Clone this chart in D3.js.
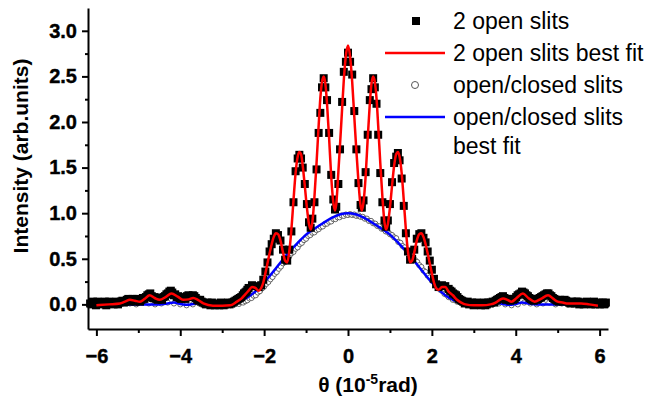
<!DOCTYPE html>
<html>
<head>
<meta charset="utf-8">
<script src="https://cdn.jsdelivr.net/npm/d3@7"></script>
<style>
  body { margin: 0; background: #fff; }
  svg text { font-family: "Liberation Sans", Arial, sans-serif; }
</style>
</head>
<body>
<svg id="chart" width="650" height="402"></svg>
<script>
'use strict';

// tick values
var xMajor = [-6, -4, -2, 0, 2, 4, 6];
var xMinor = [-5, -3, -1, 1, 3, 5];
var yMajor = [0, 0.5, 1.0, 1.5, 2.0, 2.5, 3.0];
var yMinor = [0.25, 0.75, 1.25, 1.75, 2.25, 2.75];

var legendLabels = ['2 open slits', '2 open slits best fit', 'open/closed slits', 'open/closed slits', 'best fit'];

// 2 open slits (squares), [theta, intensity]
var twoOpen = [
  [-6.15,0.01],[-6.115,0.00],[-6.08,0.03],[-6.045,0.01],[-6.01,-0.01],[-5.975,0.03],[-5.94,0.02],[-5.905,0.01],
  [-5.87,0.00],[-5.835,0.02],[-5.80,0.03],[-5.765,-0.01],[-5.73,0.01],[-5.695,0.03],[-5.66,0.02],[-5.625,0.01],
  [-5.59,0.00],[-5.555,0.02],[-5.52,0.03],[-5.485,0.00],[-5.45,0.02],[-5.415,0.03],[-5.38,0.04],[-5.345,0.02],
  [-5.31,0.03],[-5.275,0.05],[-5.24,0.06],[-5.205,0.03],[-5.17,0.05],[-5.135,0.06],[-5.10,0.04],[-5.065,0.03],
  [-5.03,0.06],[-4.995,0.05],[-4.96,0.03],[-4.925,0.05],[-4.89,0.07],[-4.855,0.06],[-4.82,0.08],[-4.785,0.10],
  [-4.75,0.11],[-4.715,0.12],[-4.68,0.09],[-4.645,0.07],[-4.61,0.08],[-4.575,0.06],[-4.54,0.05],[-4.505,0.07],
  [-4.47,0.07],[-4.435,0.05],[-4.40,0.08],[-4.365,0.09],[-4.33,0.11],[-4.295,0.12],[-4.26,0.14],[-4.225,0.15],
  [-4.19,0.13],[-4.155,0.10],[-4.12,0.11],[-4.085,0.08],[-4.05,0.09],[-4.015,0.07],[-3.98,0.06],[-3.945,0.08],
  [-3.91,0.07],[-3.875,0.06],[-3.84,0.09],[-3.805,0.10],[-3.77,0.08],[-3.735,0.09],[-3.70,0.10],[-3.665,0.09],
  [-3.63,0.07],[-3.595,0.05],[-3.56,0.04],[-3.525,0.05],[-3.49,0.03],[-3.455,0.02],[-3.42,0.01],[-3.385,0.00],
  [-3.35,0.02],[-3.315,0.01],[-3.28,-0.01],[-3.245,0.02],[-3.21,0.00],[-3.175,-0.01],[-3.14,0.01],[-3.105,0.00],
  [-3.07,-0.01],[-3.035,0.02],[-3.00,0.01],[-2.965,-0.01],[-2.93,0.00],[-2.895,0.01],[-2.86,0.02],[-2.825,0.00],
  [-2.79,0.01],[-2.755,0.02],[-2.72,0.03],[-2.685,0.04],[-2.65,0.05],[-2.615,0.06],[-2.58,0.07],[-2.545,0.08],
  [-2.51,0.10],[-2.48,0.12],[-2.45,0.13],[-2.425,0.14],[-2.40,0.16],
  [-2.37,0.18],[-2.29,0.21],[-2.21,0.20],[-2.13,0.19],[-2.07,0.21],[-2.02,0.27],[-1.97,0.36],[-1.92,0.46],
  [-1.87,0.58],[-1.82,0.66],[-1.77,0.72],[-1.72,0.78],[-1.67,0.76],[-1.61,0.70],[-1.55,0.60],[-1.50,0.49],
  [-1.45,0.48],[-1.40,0.60],[-1.35,0.80],[-1.30,1.12],[-1.25,1.46],[-1.20,1.60],[-1.16,1.64],[-1.12,1.60],
  [-1.08,1.50],[-1.03,1.32],[-0.98,1.10],[-0.93,0.90],[-0.89,0.84],[-0.85,0.94],[-0.80,1.12],[-0.75,1.48],
  [-0.70,1.88],[-0.66,2.10],[-0.62,2.38],[-0.58,2.48],[-0.54,2.38],[-0.50,2.24],[-0.45,1.88],[-0.40,1.42],
  [-0.35,1.15],[-0.31,1.04],[-0.28,1.07],[-0.23,1.32],[-0.19,1.70],[-0.14,2.22],[-0.10,2.55],[-0.05,2.66],
  [0.00,2.76],[0.05,2.66],[0.10,2.52],[0.15,2.12],[0.20,1.70],[0.25,1.33],[0.30,1.09],[0.33,1.06],
  [0.37,1.14],[0.42,1.45],[0.47,1.86],[0.52,2.24],[0.56,2.36],[0.60,2.48],[0.64,2.38],[0.68,2.20],
  [0.72,1.86],[0.77,1.44],[0.82,1.12],[0.87,0.92],[0.91,0.85],[0.95,0.92],[1.00,1.10],[1.05,1.34],
  [1.10,1.55],[1.15,1.62],[1.19,1.66],[1.23,1.58],[1.28,1.38],[1.33,1.08],[1.38,0.78],[1.43,0.58],
  [1.48,0.49],[1.53,0.50],[1.58,0.60],[1.64,0.72],[1.70,0.77],[1.75,0.78],[1.80,0.73],[1.85,0.68],
  [1.90,0.58],[1.95,0.48],[2.00,0.38],[2.05,0.28],[2.10,0.22],[2.16,0.19],[2.24,0.21],[2.32,0.20],
  [2.40,0.17],[2.435,0.15],[2.47,0.14],[2.505,0.12],[2.54,0.11],[2.575,0.10],[2.61,0.08],[2.645,0.06],
  [2.68,0.05],[2.715,0.04],[2.75,0.03],[2.785,0.01],[2.82,0.02],[2.855,0.03],[2.89,0.00],[2.925,0.01],
  [2.96,0.02],[2.995,-0.01],[3.03,0.00],[3.065,0.02],[3.10,0.01],[3.135,0.00],[3.17,-0.01],[3.205,0.01],
  [3.24,0.02],[3.275,-0.01],[3.31,0.00],[3.345,0.02],[3.38,0.01],[3.415,0.02],[3.45,0.03],[3.485,0.02],
  [3.52,0.04],[3.555,0.05],[3.59,0.06],[3.625,0.07],[3.66,0.08],[3.695,0.09],[3.73,0.07],[3.765,0.05],
  [3.80,0.06],[3.835,0.05],[3.87,0.04],[3.905,0.06],[3.94,0.05],[3.975,0.06],[4.01,0.08],[4.045,0.10],
  [4.08,0.11],[4.115,0.12],[4.15,0.14],[4.185,0.13],[4.22,0.12],[4.255,0.10],[4.29,0.09],[4.325,0.07],
  [4.36,0.06],[4.395,0.05],[4.43,0.04],[4.465,0.06],[4.50,0.05],[4.535,0.06],[4.57,0.07],[4.605,0.08],
  [4.64,0.09],[4.675,0.10],[4.71,0.11],[4.745,0.12],[4.78,0.12],[4.815,0.10],[4.85,0.09],[4.885,0.07],
  [4.92,0.06],[4.955,0.05],[4.99,0.04],[5.025,0.03],[5.06,0.05],[5.095,0.04],[5.13,0.03],[5.165,0.05],
  [5.20,0.04],[5.235,0.03],[5.27,0.02],[5.305,0.01],[5.34,0.03],[5.375,0.02],[5.41,0.01],[5.445,0.03],
  [5.48,0.03],[5.515,0.00],[5.55,0.02],[5.585,0.02],[5.62,0.00],[5.655,0.01],[5.69,0.03],[5.725,0.02],
  [5.76,0.01],[5.795,0.00],[5.83,0.02],[5.865,0.03],[5.90,0.00],[5.935,0.01],[5.97,0.02],[6.005,0.00],
  [6.04,0.01],[6.075,0.02],[6.11,0.00],[6.13,0.01],[6.15,0.02]
];

// 2 open slits best fit (red line)
var twoOpenFit = [
  [-6.00,-0.01],[-5.70,0.00],[-5.44,0.01],[-5.32,0.03],[-5.20,0.05],[-5.08,0.04],[-4.96,0.03],[-4.85,0.06],
  [-4.73,0.10],[-4.61,0.07],[-4.49,0.05],[-4.35,0.08],[-4.21,0.12],[-4.06,0.085],[-3.93,0.05],[-3.80,0.055],
  [-3.69,0.07],[-3.58,0.05],[-3.45,0.01],[-3.22,-0.015],[-3.00,-0.015],[-2.80,-0.01],[-2.65,0.03],[-2.55,0.06],
  [-2.45,0.11],[-2.37,0.15],[-2.29,0.19],[-2.21,0.18],[-2.13,0.15],[-2.07,0.18],[-2.02,0.24],[-1.97,0.34],
  [-1.92,0.45],[-1.87,0.56],[-1.82,0.66],[-1.77,0.74],[-1.72,0.78],[-1.67,0.77],[-1.61,0.70],[-1.55,0.57],
  [-1.50,0.48],[-1.45,0.46],[-1.40,0.58],[-1.35,0.82],[-1.30,1.14],[-1.25,1.44],[-1.20,1.62],[-1.16,1.67],
  [-1.12,1.65],[-1.08,1.52],[-1.03,1.30],[-0.98,1.06],[-0.93,0.88],[-0.89,0.82],[-0.85,0.90],[-0.80,1.18],
  [-0.75,1.55],[-0.70,1.96],[-0.66,2.26],[-0.62,2.44],[-0.58,2.50],[-0.54,2.42],[-0.50,2.20],[-0.45,1.82],
  [-0.40,1.40],[-0.35,1.12],[-0.31,1.03],[-0.28,1.10],[-0.23,1.45],[-0.19,1.75],[-0.14,2.15],[-0.10,2.46],
  [-0.05,2.73],[0.00,2.84],[0.05,2.72],[0.10,2.44],[0.15,2.06],[0.20,1.68],[0.25,1.34],[0.30,1.08],
  [0.33,1.03],[0.37,1.12],[0.42,1.40],[0.47,1.82],[0.52,2.20],[0.56,2.42],[0.60,2.50],[0.64,2.44],
  [0.68,2.26],[0.72,1.96],[0.77,1.55],[0.82,1.18],[0.87,0.90],[0.91,0.82],[0.95,0.88],[1.00,1.06],
  [1.05,1.30],[1.10,1.52],[1.15,1.65],[1.19,1.67],[1.23,1.62],[1.28,1.44],[1.33,1.14],[1.38,0.82],
  [1.43,0.58],[1.48,0.46],[1.53,0.48],[1.58,0.57],[1.64,0.70],[1.70,0.77],[1.75,0.78],[1.80,0.74],
  [1.85,0.66],[1.90,0.56],[1.95,0.45],[2.00,0.34],[2.05,0.24],[2.10,0.18],[2.16,0.16],[2.24,0.19],
  [2.32,0.19],[2.40,0.14],[2.50,0.10],[2.60,0.05],[2.70,0.02],[2.80,0.00],[3.00,-0.01],[3.20,-0.01],
  [3.40,0.00],[3.52,0.02],[3.62,0.05],[3.70,0.065],[3.80,0.05],[3.90,0.03],[4.02,0.07],[4.17,0.12],
  [4.30,0.07],[4.45,0.03],[4.60,0.06],[4.77,0.10],[4.90,0.06],[5.00,0.03],[5.12,0.02],[5.24,0.01],
  [5.40,0.01],[5.56,0.01],[5.75,0.00],[5.96,-0.015]
];

// open/closed slits (circles)
var openClosed = [
  [-6.10,0.01],[-5.95,0.00],[-5.80,0.02],[-5.65,0.01],[-5.50,0.00],[-5.35,0.02],[-5.20,0.01],[-5.05,0.00],
  [-4.90,0.02],[-4.75,0.01],[-4.60,0.00],[-4.45,0.01],[-4.30,0.02],[-4.15,0.01],[-4.00,0.00],[-3.85,-0.01],
  [-3.70,0.00],[-3.55,0.01],[-3.40,0.00],[-3.25,-0.01],[-3.10,0.00],
  [-3.00,-0.01],[-2.95,0.00],[-2.90,-0.005],[-2.85,0.005],[-2.80,-0.01],[-2.75,0.005],[-2.70,0.00],[-2.65,0.015],
  [-2.60,0.005],[-2.55,0.025],[-2.50,0.02],[-2.45,0.035],[-2.40,0.045],[-2.35,0.065],[-2.30,0.07],[-2.25,0.095],
  [-2.20,0.10],[-2.15,0.13],[-2.10,0.145],[-2.05,0.175],[-2.00,0.195],[-1.95,0.225],[-1.90,0.245],[-1.85,0.275],
  [-1.80,0.30],[-1.75,0.335],[-1.70,0.355],[-1.65,0.39],[-1.60,0.415],[-1.55,0.45],[-1.50,0.465],[-1.45,0.505],
  [-1.40,0.525],[-1.35,0.56],[-1.30,0.575],[-1.25,0.61],[-1.20,0.625],[-1.15,0.66],[-1.10,0.675],[-1.05,0.705],
  [-1.00,0.72],[-0.95,0.75],[-0.90,0.76],[-0.85,0.785],[-0.80,0.79],[-0.75,0.815],[-0.70,0.825],[-0.65,0.85],
  [-0.60,0.855],[-0.55,0.88],[-0.50,0.885],[-0.45,0.905],[-0.40,0.91],[-0.35,0.935],[-0.30,0.935],[-0.25,0.955],
  [-0.20,0.955],[-0.15,0.975],[-0.10,0.97],[-0.05,0.985],[0.00,0.98],[0.05,0.99],[0.10,0.98],[0.15,0.985],
  [0.20,0.97],[0.25,0.975],[0.30,0.96],[0.35,0.96],[0.40,0.94],[0.45,0.94],[0.50,0.915],[0.55,0.915],
  [0.60,0.89],[0.65,0.885],[0.70,0.86],[0.75,0.855],[0.80,0.83],[0.85,0.825],[0.90,0.80],[0.95,0.795],
  [1.00,0.77],[1.05,0.76],[1.10,0.735],[1.15,0.725],[1.20,0.685],[1.25,0.675],[1.30,0.64],[1.35,0.625],
  [1.40,0.59],[1.45,0.575],[1.50,0.54],[1.55,0.52],[1.60,0.485],[1.65,0.465],[1.70,0.43],[1.75,0.41],
  [1.80,0.37],[1.85,0.355],[1.90,0.315],[1.95,0.295],[2.00,0.26],[2.05,0.245],[2.10,0.205],[2.15,0.195],
  [2.20,0.16],[2.25,0.145],[2.30,0.115],[2.35,0.105],[2.40,0.08],[2.45,0.075],[2.50,0.05],[2.55,0.05],
  [2.60,0.03],[2.65,0.03],[2.70,0.015],[2.75,0.015],[2.80,0.00],[2.85,0.005],[2.90,-0.005],[2.95,0.00],
  [3.00,-0.01],
  [3.15,0.00],[3.30,-0.01],[3.45,0.00],[3.60,0.01],[3.75,0.00],[3.90,-0.01],[4.05,0.00],[4.20,0.02],
  [4.35,0.01],[4.50,0.00],[4.65,0.01],[4.80,0.02],[4.95,0.00],[5.10,0.01],[5.25,0.00],[5.40,0.01],
  [5.55,0.02],[5.70,0.00],[5.85,0.01],[6.00,0.00],[6.10,0.01]
];

// open/closed slits best fit (blue line)
var openClosedFit = [
  [-6.0,0.0],[-5.0,0.0],[-4.5,0.0],[-4.3,0.01],[-4.15,0.02],[-4.0,0.005],[-3.8,-0.005],[-3.6,0.012],
  [-3.45,0.005],[-3.2,-0.005],[-3.0,-0.005],[-2.8,0.005],[-2.6,0.03],[-2.4,0.075],[-2.2,0.145],[-2.0,0.24],
  [-1.8,0.35],[-1.6,0.465],[-1.4,0.575],[-1.2,0.675],[-1.0,0.765],[-0.8,0.83],[-0.6,0.89],[-0.4,0.945],
  [-0.2,0.985],[0.0,1.0],[0.2,0.985],[0.4,0.945],[0.6,0.89],[0.8,0.83],[1.0,0.765],[1.2,0.675],
  [1.4,0.575],[1.6,0.465],[1.8,0.35],[2.0,0.24],[2.2,0.145],[2.4,0.075],[2.6,0.03],[2.8,0.005],
  [3.0,-0.005],[3.2,-0.005],[3.45,0.005],[3.6,0.012],[3.8,-0.005],[4.0,0.005],[4.15,0.02],[4.3,0.01],
  [4.5,0.0],[5.0,0.0],[6.0,0.0]
];

var svg = d3.select('#chart');

var x = d3.scaleLinear().domain([-6.2, 6.2]).range([88, 608]);
var y = d3.scaleLinear().domain([-0.27, 3.25]).range([329, 8]);

var line = d3.line()
    .x(function(d){ return x(d[0]); })
    .y(function(d){ return y(d[1]); })
    .curve(d3.curveMonotoneX);

// open/closed data: small hollow circles
svg.append('g')
    .selectAll('circle')
    .data(openClosed)
    .enter().append('circle')
    .attr('cx', function(d){ return x(d[0]); })
    .attr('cy', function(d){ return y(d[1]); })
    .attr('r', 2.6)
    .attr('fill', '#fff')
    .attr('stroke', '#444')
    .attr('stroke-width', 0.8);

svg.append('path')
    .datum(openClosedFit)
    .attr('d', line)
    .attr('fill', 'none')
    .attr('stroke', '#0000ff')
    .attr('stroke-width', 2.5);

var sq = 8;
svg.append('g')
    .selectAll('rect')
    .data(twoOpen)
    .enter().append('rect')
    .attr('x', function(d){ return x(d[0]) - sq / 2; })
    .attr('y', function(d){ return y(d[1]) - sq / 2; })
    .attr('width', sq)
    .attr('height', sq)
    .attr('fill', '#000');

svg.append('path')
    .datum(twoOpenFit)
    .attr('d', line)
    .attr('fill', 'none')
    .attr('stroke', '#ff0000')
    .attr('stroke-width', 2.5);

// axes
svg.append('g')
    .attr('transform', 'translate(0,329)')
    .call(d3.axisBottom(x).tickValues(xMajor).tickSize(7).tickSizeOuter(0).tickPadding(13).tickFormat(d3.format('d')));
svg.append('g')
    .attr('transform', 'translate(0,329)')
    .call(d3.axisBottom(x).tickValues(xMinor).tickSize(4).tickSizeOuter(0).tickFormat(''))
    .select('.domain').remove();

svg.append('g')
    .attr('transform', 'translate(88,0)')
    .call(d3.axisLeft(y).tickValues(yMajor).tickSize(6).tickSizeOuter(0).tickPadding(5).tickFormat(d3.format('.1f')));
svg.append('g')
    .attr('transform', 'translate(88,0)')
    .call(d3.axisLeft(y).tickValues(yMinor).tickSize(3).tickSizeOuter(0).tickFormat(''))
    .select('.domain').remove();

svg.selectAll('.domain').attr('stroke', '#000').attr('stroke-width', 2);
svg.selectAll('.tick line').attr('stroke', '#000').attr('stroke-width', 2);
svg.selectAll('.tick text')
    .attr('fill', '#000')
    .attr('stroke', '#000')
    .attr('stroke-width', 0.4)
    .style('font-family', '"Liberation Sans", Arial, sans-serif')
    .style('font-size', '20px')
    .style('font-weight', 'bold');

// axis titles
svg.append('text')
    .attr('transform', 'translate(28,156) rotate(-90)')
    .attr('text-anchor', 'middle')
    .style('font-size', '21px')
    .style('font-weight', 'bold')
    .text('Intensity (arb.units)');

var xt = svg.append('text')
    .attr('x', 368)
    .attr('y', 392)
    .attr('text-anchor', 'middle')
    .style('font-size', '21px')
    .style('font-weight', 'bold');
xt.append('tspan').text('\u03b8 (10');
xt.append('tspan').attr('dy', -8).style('font-size', '14px').text('-5');
xt.append('tspan').attr('dy', 8).text('rad)');

// legend
var legendRows = [21, 53, 85, 117, 146];
var lg = svg.append('g');
lg.append('rect')
    .attr('x', 416 - 4).attr('y', legendRows[0] - 4)
    .attr('width', 8).attr('height', 8)
    .attr('fill', '#000');
lg.append('line')
    .attr('x1', 385).attr('x2', 445)
    .attr('y1', legendRows[1]).attr('y2', legendRows[1])
    .attr('stroke', '#ff0000').attr('stroke-width', 2.5);
lg.append('circle')
    .attr('cx', 415).attr('cy', legendRows[2]).attr('r', 3.5)
    .attr('fill', '#fff').attr('stroke', '#555').attr('stroke-width', 1);
lg.append('line')
    .attr('x1', 385).attr('x2', 445)
    .attr('y1', legendRows[3]).attr('y2', legendRows[3])
    .attr('stroke', '#0000ff').attr('stroke-width', 2.5);

lg.selectAll('text')
    .data(legendLabels)
    .enter().append('text')
    .attr('x', 453)
    .attr('y', function(d, i){ return legendRows[i] + 8; })
    .style('font-size', '23px')
    .attr('fill', '#000')
    .text(function(d){ return d; });
</script>
</body>
</html>
